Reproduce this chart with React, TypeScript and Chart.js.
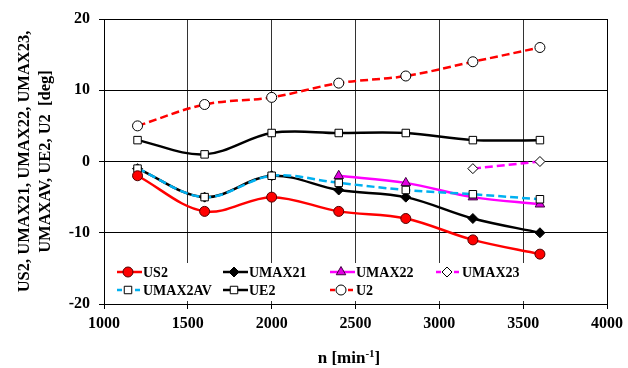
import React, { useEffect, useRef } from "react";
import { Chart, registerables } from "chart.js";

Chart.register(...registerables);

const nValues = [1200, 1600, 2000, 2400, 2800, 3200, 3600];
const US2 = [-2, -7, -5, -7, -8, -11, -13];
const UMAX21 = [-1, -5, -2, -4, -5, -8, -10];
const UMAX22 = [null, null, null, -2, -3, -5, -6];
const UMAX23 = [null, null, null, null, null, -1, 0];
const UMAX2AV = [-1, -5, -2, -3, -4, -4.6, -5.3];
const UE2 = [3, 1, 4, 4, 4, 3, 3];
const U2 = [5, 8, 9, 11, 12, 14, 16];

const xTicks = [1000, 1500, 2000, 2500, 3000, 3500, 4000];
const yTicks = [-20, -10, 0, 10, 20];
const yTitle = ["US2, UMAX21, UMAX22, UMAX23,", "UMAXAV, UE2, U2  [deg]"];
const xTitleMain = "n [min";
const xTitleSup = "-1";
const xTitleEnd = "]";

const FONT = "'Liberation Serif', 'Times New Roman', serif";

type S = {
  label: string;
  values: (number | null)[];
  color: string;
  dash: number[];
  style: string;
  radius: number;
  fill: string;
  stroke: string;
  order: number;
};

const series: S[] = [
  { label: "US2", values: US2, color: "#FF0000", dash: [], style: "circle", radius: 5, fill: "#FF0000", stroke: "#500000", order: 1 },
  { label: "UMAX21", values: UMAX21, color: "#000000", dash: [], style: "rectRot", radius: 5, fill: "#000000", stroke: "#000000", order: 3 },
  { label: "UMAX22", values: UMAX22, color: "#FF00FF", dash: [], style: "triangle", radius: 5.5, fill: "#E000E0", stroke: "#400040", order: 4 },
  { label: "UMAX23", values: UMAX23, color: "#FF00FF", dash: [8, 4], style: "rectRot", radius: 5, fill: "#FFFFFF", stroke: "#000000", order: 5 },
  { label: "UMAX2AV", values: UMAX2AV, color: "#00B0F0", dash: [8, 4], style: "rect", radius: 5.3, fill: "#FFFFFF", stroke: "#000000", order: 2 },
  { label: "UE2", values: UE2, color: "#000000", dash: [], style: "rect", radius: 5.3, fill: "#FFFFFF", stroke: "#000000", order: 6 },
  { label: "U2", values: U2, color: "#FF0000", dash: [8, 4], style: "circle", radius: 5, fill: "#FFFFFF", stroke: "#000000", order: 7 },
];

function drawMarker(ctx: CanvasRenderingContext2D, style: string, x: number, y: number, r: number, fill: string, stroke: string) {
  ctx.save();
  ctx.setLineDash([]);
  ctx.beginPath();
  if (style === "circle") {
    ctx.arc(x, y, r, 0, Math.PI * 2);
  } else if (style === "rect") {
    const s = Math.SQRT1_2 * r;
    ctx.rect(x - s, y - s, 2 * s, 2 * s);
  } else if (style === "rectRot") {
    ctx.moveTo(x, y - r);
    ctx.lineTo(x + r, y);
    ctx.lineTo(x, y + r);
    ctx.lineTo(x - r, y);
    ctx.closePath();
  } else if (style === "triangle") {
    for (let i = 0; i < 3; i++) {
      const a = (i * 2 * Math.PI) / 3;
      const px = x + Math.sin(a) * r;
      const py = y - Math.cos(a) * r;
      if (i === 0) ctx.moveTo(px, py);
      else ctx.lineTo(px, py);
    }
    ctx.closePath();
  }
  ctx.fillStyle = fill;
  ctx.fill();
  ctx.lineWidth = 1;
  ctx.strokeStyle = stroke;
  ctx.stroke();
  ctx.restore();
}

const legendPlugin = {
  id: "insideLegend",
  afterDatasetsDraw(chart: any) {
    const ctx: CanvasRenderingContext2D = chart.ctx;
    const area = chart.chartArea;
    ctx.save();
    ctx.fillStyle = "#FFFFFF";
    ctx.fillRect(area.left + 1, 263, area.right - area.left - 3, 301 - 263);
    const colX = [117, 223, 330, 436];
    const rowY = [272, 290];
    series.forEach((s, i) => {
      const col = i < 4 ? i : i - 4;
      const row = i < 4 ? 0 : 1;
      const x0 = colX[col];
      const y = rowY[row];
      ctx.save();
      ctx.strokeStyle = s.color;
      ctx.lineWidth = 2.5;
      ctx.setLineDash(s.dash.length ? [5, 4] : []);
      ctx.beginPath();
      ctx.moveTo(x0, y);
      ctx.lineTo(x0 + 25, y);
      ctx.stroke();
      ctx.restore();
      drawMarker(ctx, s.style, x0 + 11, y, s.radius, s.fill, s.stroke);
      ctx.fillStyle = "#000000";
      ctx.font = `bold 14px ${FONT}`;
      ctx.textAlign = "left";
      ctx.textBaseline = "middle";
      ctx.fillText(s.label, x0 + 26, y + 1);
    });
    ctx.restore();
  },
  afterDraw(chart: any) {
    const ctx: CanvasRenderingContext2D = chart.ctx;
    ctx.save();
    ctx.fillStyle = "#000000";
    ctx.textBaseline = "middle";
    ctx.textAlign = "left";
    const mainFont = `bold 17px ${FONT}`;
    const supFont = `bold 11px ${FONT}`;
    ctx.font = mainFont;
    const w1 = ctx.measureText(xTitleMain).width;
    const w3 = ctx.measureText(xTitleEnd).width;
    ctx.font = supFont;
    const w2 = ctx.measureText(xTitleSup).width;
    const total = w1 + w2 + w3;
    let x = 349 - total / 2;
    const y = 359;
    ctx.font = mainFont;
    ctx.fillText(xTitleMain, x, y);
    x += w1;
    ctx.font = supFont;
    ctx.fillText(xTitleSup, x, y - 5);
    x += w2;
    ctx.font = mainFont;
    ctx.fillText(xTitleEnd, x, y);
    ctx.restore();
  },
};

export default function App() {
  const ref = useRef<HTMLCanvasElement | null>(null);
  useEffect(() => {
    if (!ref.current) return;
    const chart = new Chart(ref.current, {
      type: "line",
      data: {
        datasets: series.map((s) => ({
          label: s.label,
          data: nValues.map((n, i) => ({ x: n, y: s.values[i] })),
          borderColor: s.color,
          borderWidth: 2.5,
          borderDash: s.dash,
          tension: 0.35,
          fill: false,
          pointStyle: s.style,
          pointRadius: s.radius,
          pointHoverRadius: s.radius,
          pointBackgroundColor: s.fill,
          pointBorderColor: s.stroke,
          pointBorderWidth: 1,
          spanGaps: false,
          order: s.order,
        })),
      },
      options: {
        animation: false,
        responsive: false,
        layout: { padding: { top: 19, right: 18, left: 0, bottom: 0 } },
        plugins: { legend: { display: false }, tooltip: { enabled: false } },
        scales: {
          x: {
            type: "linear",
            min: xTicks[0],
            max: xTicks[xTicks.length - 1],
            afterBuildTicks: (scale: any) => {
              scale.ticks = xTicks.map((v) => ({ value: v }));
            },
            afterFit: (scale: any) => {
              scale.height = 64;
            },
            grid: { color: "#333333", lineWidth: 1, tickLength: 5, drawTicks: true, tickColor: "#000000" },
            border: { color: "#000000", width: 1 },
            ticks: {
              color: "#000000",
              padding: 5,
              maxRotation: 0,
              callback: (v: any) => String(v),
              font: { family: FONT, size: 16, weight: "bold" },
            },
          },
          y: {
            type: "linear",
            min: yTicks[0],
            max: yTicks[yTicks.length - 1],
            afterBuildTicks: (scale: any) => {
              scale.ticks = yTicks.map((v) => ({ value: v }));
            },
            afterFit: (scale: any) => {
              scale.width = 104;
            },
            grid: { color: "#000000", lineWidth: 1, tickLength: 5, tickColor: "#000000" },
            border: { color: "#000000", width: 1 },
            ticks: {
              color: "#000000",
              padding: 9,
              callback: (v: any) => String(v),
              font: { family: FONT, size: 16, weight: "bold" },
            },
            title: {
              display: true,
              text: yTitle,
              color: "#000000",
              padding: { top: 14, bottom: 0 },
              font: { family: FONT, size: 16.5, weight: "bold", lineHeight: 1.3 },
            },
          },
          x2: {
            type: "linear",
            position: "top",
            min: xTicks[0],
            max: xTicks[xTicks.length - 1],
            display: true,
            grid: { display: false },
            ticks: { display: false },
            border: { color: "#000000", width: 1 },
            afterFit: (scale: any) => {
              scale.height = 0;
            },
          },
          y2: {
            type: "linear",
            position: "right",
            min: yTicks[0],
            max: yTicks[yTicks.length - 1],
            display: true,
            grid: { display: false },
            ticks: { display: false },
            border: { color: "#000000", width: 1 },
            afterFit: (scale: any) => {
              scale.width = 0;
            },
          },
        },
      } as any,
      plugins: [legendPlugin],
    });
    return () => chart.destroy();
  }, []);
  return (
    <div style={{ position: "absolute", left: 0, top: 0, width: 628, height: 368, background: "#FFFFFF" }}>
      <canvas ref={ref} width={628} height={368} style={{ display: "block" }} />
    </div>
  );
}
